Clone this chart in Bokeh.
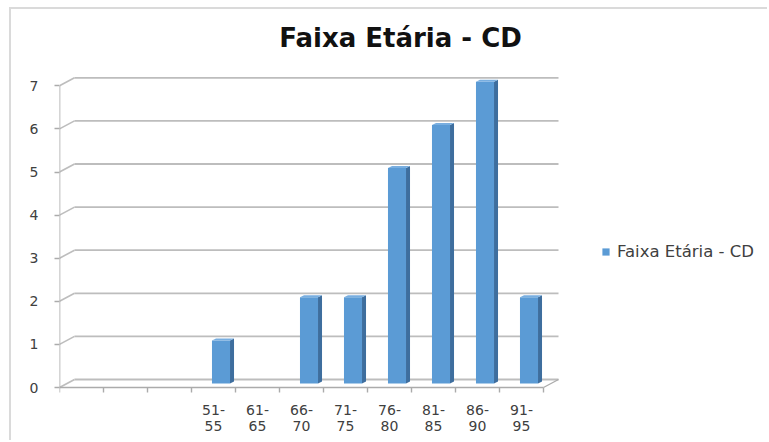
import numpy as np
from bokeh.plotting import figure
from bokeh.models import FixedTicker, Label, Legend, LegendItem, Range1d
from bokeh.embed import file_html
from bokeh.resources import INLINE

# ---- data -------------------------------------------------------------
chart_title = "Faixa Etária - CD"
series_name = "Faixa Etária - CD"
age_groups = ["", "", "", "51-55", "61-65", "66-70", "71-75", "76-80", "81-85", "86-90", "91-95"]
counts = [0, 0, 0, 1, 0, 2, 2, 5, 6, 7, 2]
y_ticks = [0, 1, 2, 3, 4, 5, 6, 7]

# ---- geometry of the pseudo-3D box (in axis units) ----------------------
n = len(age_groups)
PX_PER_CAT = 44.0          # horizontal pixels per category
PX_PER_UNIT = 43.1         # vertical pixels per count
DX = 15 / PX_PER_CAT       # depth shift of the back wall
DY = 8 / PX_PER_UNIT
BAR_W = 0.41               # front face width
SDX = 4 / PX_PER_CAT       # bar depth
SDY = 2 / PX_PER_UNIT
TICK = 5 / PX_PER_UNIT

# canvas size and frame placement (canvas sits inside a thin border);
# the frame reaches the top and right edges so title and legend sit inside it
W, H = 758, 433
FRAME_L, FRAME_R, FRAME_T, FRAME_B = 48, W, 0, 386
x_end = (FRAME_R - FRAME_L) / PX_PER_CAT
y_start = -8 / PX_PER_UNIT
y_end = y_start + (FRAME_B - FRAME_T) / PX_PER_UNIT

p = figure(width=W, height=H, output_backend="svg", toolbar_location=None,
           x_range=Range1d(0, x_end), y_range=Range1d(y_start, y_end),
           min_border_left=FRAME_L, min_border_right=0,
           min_border_top=0, min_border_bottom=H - FRAME_B)
p.title.visible = False
p.margin = (7, 0, 0, 9)
p.styles = {"border-top": "2px solid #DADADA", "border-left": "2px solid #DADADA"}
p.outline_line_color = None
p.xgrid.visible = False
p.ygrid.visible = False
p.background_fill_color = "white"
p.border_fill_color = "white"

GRID = "#BDBDBD"
AXIS = "#ABABAB"
LABEL = "#404040"

# back wall gridlines and the left side-wall edges
yt = np.array(y_ticks, dtype=float)
p.segment(x0=np.full_like(yt, DX), y0=yt + DY, x1=np.full_like(yt, n + DX), y1=yt + DY,
          line_color=GRID, line_width=1.8)
p.segment(x0=np.zeros_like(yt), y0=yt, x1=np.full_like(yt, DX), y1=yt + DY,
          line_color=GRID, line_width=1.6)
# floor right edge
p.segment(x0=[n], y0=[0], x1=[n + DX], y1=[DY], line_color=AXIS, line_width=1.4)

# front axes
p.line([0, 0], [0, max(y_ticks)], line_color=AXIS, line_width=1.6)
p.line([0, n], [0, 0], line_color=AXIS, line_width=1.6)
xt = np.arange(n + 1, dtype=float)
p.segment(x0=xt, y0=np.zeros_like(xt), x1=xt, y1=np.full_like(xt, -TICK),
          line_color=AXIS, line_width=1.4)

# bars: front face, right side and top
vals = np.array(counts, dtype=float)
centers = np.arange(n) + 0.5 + DX / 2
left = centers - BAR_W / 2
right = centers + BAR_W / 2
base = DY / 2
front = p.quad(left=left, right=right, bottom=np.full(n, base), top=vals + base,
               fill_color="#5B9BD5", line_color=None)

shown = vals > 0
side_xs, side_ys, top_xs, top_ys = [], [], [], []
for l, r, v in zip(left[shown], right[shown], vals[shown]):
    t = v + base
    side_xs.append([r, r + SDX, r + SDX, r])
    side_ys.append([base, base + SDY, t + SDY, t])
    top_xs.append([l, r, r + SDX, l + SDX])
    top_ys.append([t, t, t + SDY, t + SDY])
p.patches(side_xs, side_ys, fill_color="#3E6E9E", line_color=None)
p.patches(top_xs, top_ys, fill_color="#78AEE0", line_color=None)

# axes: labels only, the lines are drawn above
p.yaxis.ticker = FixedTicker(ticks=y_ticks)
p.yaxis.axis_line_color = None
p.yaxis.major_tick_out = 5
p.yaxis.major_tick_in = 0
p.yaxis.major_tick_line_color = AXIS
p.yaxis.major_tick_line_width = 1.4
p.yaxis.minor_tick_line_color = None
p.yaxis.major_label_standoff = 16
p.yaxis.major_label_text_font = "DejaVu Sans"
p.yaxis.major_label_text_font_size = "14px"
p.yaxis.major_label_text_color = LABEL

p.xaxis.ticker = FixedTicker(ticks=[i + 0.5 for i in range(n)])
p.xaxis.major_label_overrides = {i + 0.5: g.replace("-", "-\n") for i, g in enumerate(age_groups)}
p.xaxis.axis_line_color = None
p.xaxis.major_tick_line_color = None
p.xaxis.minor_tick_line_color = None
p.xaxis.major_label_standoff = 0
p.xaxis.major_label_text_font = "DejaVu Sans"
p.xaxis.major_label_text_font_size = "14px"
p.xaxis.major_label_text_line_height = 1.0
p.xaxis.major_label_text_color = LABEL

# chart title
p.add_layout(Label(x=341, y=358, x_units="screen", y_units="screen", text=chart_title,
                   text_align="center", text_baseline="middle", text_font="DejaVu Sans",
                   text_font_style="bold", text_font_size="26px", text_color="#111111"))

# legend to the right of the bars
legend = Legend(items=[LegendItem(label=series_name, renderers=[front])],
                location=(542, 134), border_line_color=None, background_fill_alpha=0,
                padding=0, margin=0, glyph_width=9, glyph_height=9, label_height=9,
                label_standoff=7, label_text_font="DejaVu Sans",
                label_text_font_size="16.5px", label_text_color=LABEL)
p.add_layout(legend)

open("out.html", "w").write(file_html(p, INLINE))
